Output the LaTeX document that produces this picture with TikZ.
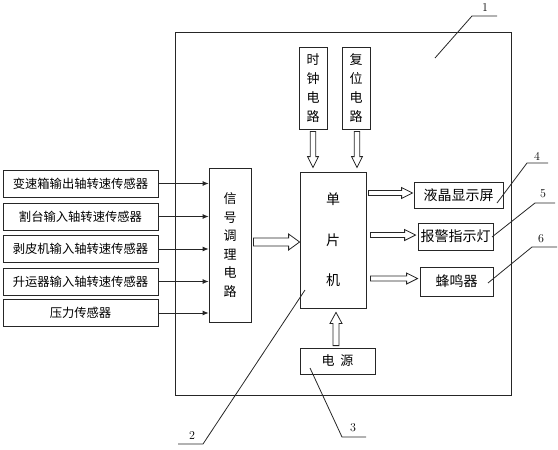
\documentclass[tikz,border=0pt]{standalone}
\usepackage{fontspec}
\newfontfamily\cjk{Noto Sans CJK SC}
\usetikzlibrary{calc,arrows.meta}
% #1 from, #2 to, #3 canvas angle, #4 shaft half width, #5 head half width
\newcommand\hollowarrow[5]{%
  \draw[hol] ($(#1)+(#3+90:#4pt)$)
    -- ($(#2)+(#3+180:11pt)+(#3+90:#4pt)$)
    -- ($(#2)+(#3+180:11pt)+(#3+90:#5pt)$)
    -- (#2)
    -- ($(#2)+(#3+180:11pt)+(#3-90:#5pt)$)
    -- ($(#2)+(#3+180:11pt)+(#3-90:#4pt)$)
    -- ($(#1)+(#3-90:#4pt)$) -- cycle;}
\begin{document}
\begin{tikzpicture}[x=1pt,y=-1pt,
  line/.style={draw=black!85, line width=0.8pt},
  hol/.style={line, fill=white},
  box/.style={line, rectangle, inner sep=0pt, font=\cjk\fontsize{13.5}{16}\selectfont},
  sensor/.style={box, minimum width=155pt, minimum height=27pt, font=\cjk\fontsize{12.3}{14}\selectfont},
  outbox/.style={box, font=\cjk\fontsize{14}{16}\selectfont},
  thin/.style={line, -{Latex[length=6pt,width=5pt]}},
  lead/.style={line},
  num/.style={font=\fontsize{12}{14}\selectfont, inner sep=0pt}]
\useasboundingbox (0,0) rectangle (558,450);
% system box
\node[box, minimum width=336pt, minimum height=363pt] (sys) at (343,213.5) {};
% sensors
\node[sensor] (s1) at (80.5,183.5) {变速箱输出轴转速传感器};
\node[sensor] (s2) at (80.5,216.5) {割台输入轴转速传感器};
\node[sensor] (s3) at (80.5,249) {剥皮机输入轴转速传感器};
\node[sensor] (s4) at (80.5,281.5) {升运器输入轴转速传感器};
\node[sensor] (s5) at (80.5,313) {压力传感器};
% signal conditioning
\node[box, minimum width=42pt, minimum height=154pt, align=center, font=\cjk\fontsize{13}{18.6}\selectfont] (sig) at (230,245) {信\\号\\调\\理\\电\\路};
% MCU
\node[box, minimum width=66pt, minimum height=136pt, align=center, font=\cjk\fontsize{14}{40.5}\selectfont] (mcu) at (333,240) {单\\片\\机};
% clock, reset
\node[box, minimum width=28pt, minimum height=82pt, align=center, font=\cjk\fontsize{13}{19}\selectfont] (clk) at (313,88) {时\\钟\\电\\路};
\node[box, minimum width=28pt, minimum height=82pt, align=center, font=\cjk\fontsize{13}{19}\selectfont] (rst) at (356,88) {复\\位\\电\\路};
% outputs
\node[outbox, minimum width=89pt, minimum height=26pt] (lcd) at (458.5,195) {液晶显示屏};
\node[outbox, minimum width=75pt, minimum height=27pt] (alm) at (455.5,236.5) {报警指示灯};
\node[outbox, minimum width=73pt, minimum height=29pt] (buz) at (456.5,281.5) {蜂鸣器};
% power
\node[box, minimum width=75pt, minimum height=26pt, font=\cjk\fontsize{13}{16}\selectfont] (pwr) at (337.5,361) {电\hspace{6pt}源};
% thin arrows
\foreach \s in {s1,s2,s3,s4,s5}
  \draw[thin] (\s.east) -- (\s.east -| sig.west);
% hollow arrows
\coordinate (a1s) at ($(sig.east)+(2,-3)$);
\coordinate (a1e) at (a1s -| mcu.west);
\hollowarrow{a1s}{a1e}{0}{4}{8}
\coordinate (c1s) at ($(clk.south)+(0,2)$);
\coordinate (c1e) at ($(clk.south |- mcu.north)+(0,-4)$);
\hollowarrow{c1s}{c1e}{-90}{2.7}{5.5}
\coordinate (r1s) at ($(rst.south)+(1,2)$);
\coordinate (r1e) at ($(rst.south |- mcu.north)+(1,-4)$);
\hollowarrow{r1s}{r1e}{-90}{2.7}{5.5}
\coordinate (l1s) at ($(mcu.east |- lcd.west)+(2,-2)$);
\coordinate (l1e) at ($(lcd.west)+(-1,-2)$);
\hollowarrow{l1s}{l1e}{0}{2.5}{5.5}
\coordinate (w1s) at ($(mcu.east |- alm.west)+(4,-1.5)$);
\coordinate (w1e) at ($(alm.west)+(-2,-1.5)$);
\hollowarrow{w1s}{w1e}{0}{2.5}{5.5}
\coordinate (b1s) at ($(mcu.east |- buz.west)+(4,-3)$);
\coordinate (b1e) at ($(buz.west)+(-2,-3)$);
\hollowarrow{b1s}{b1e}{0}{2.5}{5.5}
\coordinate (p1s) at ($(pwr.north)+(-1.5,-2)$);
\coordinate (p1e) at ($(pwr.north |- mcu.south)+(-1.5,4)$);
\hollowarrow{p1s}{p1e}{90}{3}{6}
% leader lines and numbers
\coordinate (L1a) at (435,58); \coordinate (L1b) at (472,16); \coordinate (L1c) at (497,16);
\draw[lead] (L1a) -- (L1b) -- (L1c);
\node[num] (n1) at (485,8) {1};
\coordinate (L2a) at (305,290); \coordinate (L2b) at (203,444); \coordinate (L2c) at (178,444);
\draw[lead] (L2a) -- (L2b) -- (L2c);
\node[num] (n2) at (192,436) {2};
\coordinate (L3a) at (310,368); \coordinate (L3b) at (342,437); \coordinate (L3c) at (366,437);
\draw[lead] (L3a) -- (L3b) -- (L3c);
\node[num] (n3) at (353,428) {3};
\coordinate (L4a) at (497,203); \coordinate (L4b) at (527,163); \coordinate (L4c) at (548,163);
\draw[lead] (L4a) -- (L4b) -- (L4c);
\node[num] (n4) at (537,156) {4};
\coordinate (L5a) at (492,237); \coordinate (L5b) at (535,203); \coordinate (L5c) at (555,203);
\draw[lead] (L5a) -- (L5b) -- (L5c);
\node[num] (n5) at (543,194) {5};
\coordinate (L6a) at (488,283); \coordinate (L6b) at (532,247); \coordinate (L6c) at (557,247);
\draw[lead] (L6a) -- (L6b) -- (L6c);
\node[num] (n6) at (541,239) {6};
\end{tikzpicture}
\end{document}
